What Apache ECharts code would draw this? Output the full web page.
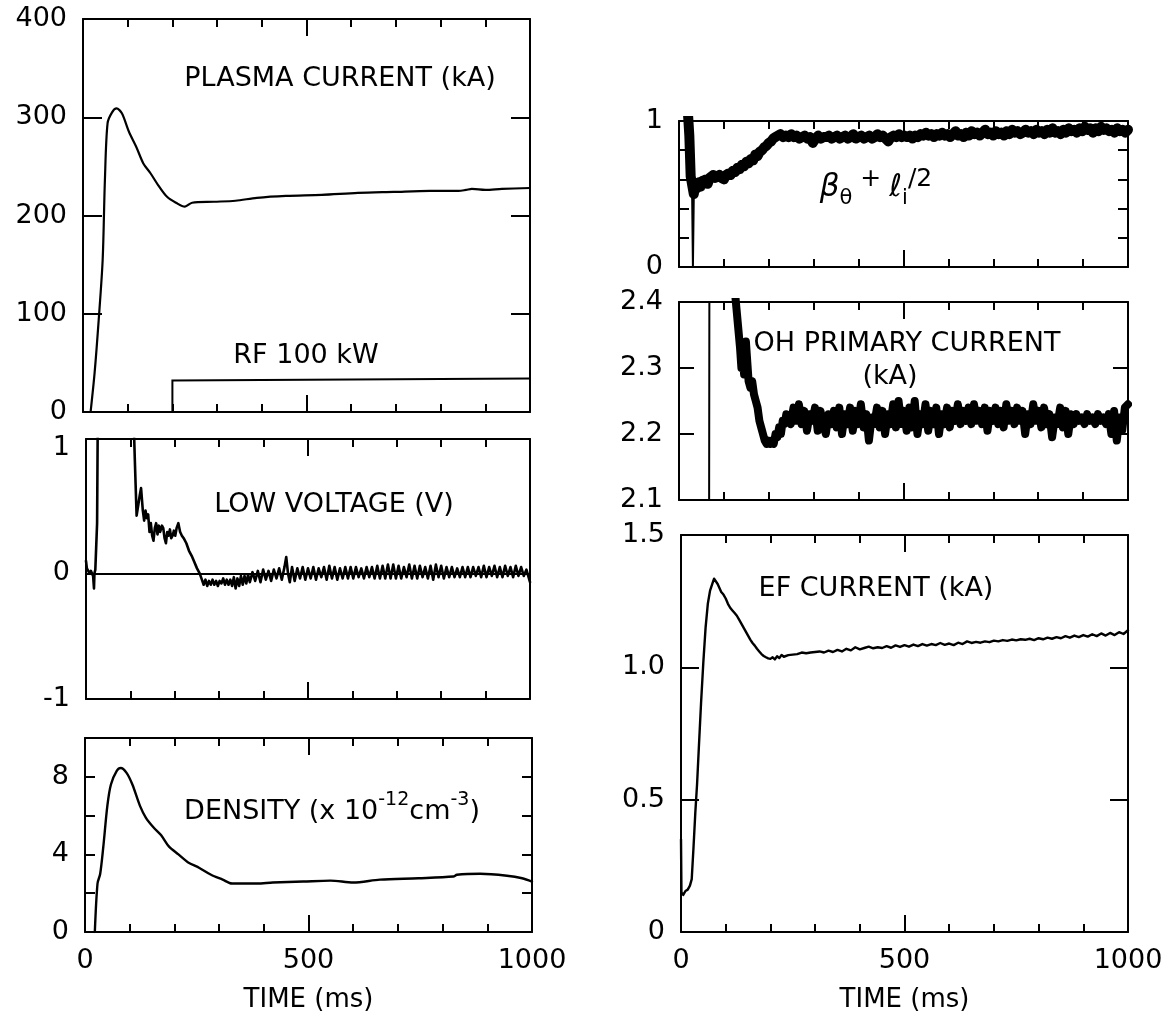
<!DOCTYPE html>
<html>
<head>
<meta charset="utf-8">
<script src="https://cdn.jsdelivr.net/npm/echarts@6/dist/echarts.min.js"></script>
<style>
html,body{margin:0;padding:0;background:#fff;}
#chart{width:1175px;height:1014px;}
</style>
</head>
<body>
<div id="chart"></div>
<script>
// ---------------- DATA (time in ms) ----------------
const timeTicks = [0, 500, 1000];

const plasmaCurrent = [
  [17,0],[26,40],[35,93],[44,155],[49,236],[55,294],[65,305],[75,309],[87,304],[103,285],
  [119,270],[135,253],[151,243],[168,231],[188,219],[208,213],[228,209],[244,213],[293,214],
  [341,215],[389,218],[454,220],[534,221],[615,223],[695,224],[776,225],[840,225],[857,226],
  [870,227],[900,226],[937,227],[1000,228]
];
const rfPower = [[200,0],[200,32],[1000,34]];

const lowVoltage = [
  [0,0.1],[2,0.04],[5,0.02],[8,0.0],[11,0.02],[14,0.01],[16,-0.02],[18,-0.12],[19,0.0],[21,0.03],
  [23,0.02],[25,0.4],[27,1.5],[60,2.5],[105,1.5],
  [110,0.9],[114,0.46],[118,0.55],[121,0.62],[124,0.68],[128,0.5],[131,0.42],[134,0.5],[137,0.44],
  [140,0.47],[143,0.33],[146,0.4],[149,0.3],[152,0.26],[155,0.36],[158,0.4],[161,0.31],[164,0.38],
  [167,0.33],[171,0.38],[174,0.36],[177,0.28],[180,0.24],[183,0.33],[186,0.3],[189,0.35],[192,0.28],
  [195,0.3],[198,0.34],[201,0.3],[204,0.36],[208,0.4],[212,0.33],[216,0.3],[220,0.28],[226,0.24],
  [232,0.18],[238,0.14],[244,0.09],[250,0.04],[256,0.0],
  [261,-0.05],[265,-0.09],[269,-0.05],[273,-0.1],[277,-0.06],[281,-0.09],[285,-0.05],[289,-0.09],
  [293,-0.06],[297,-0.1],[301,-0.06],[305,-0.08],[309,-0.04],[313,-0.09],[317,-0.05],[321,-0.09],
  [325,-0.05],[329,-0.1],[333,-0.03],[337,-0.12],[341,-0.04],[345,-0.1],[349,-0.02],[353,-0.09],
  [357,-0.02],[361,-0.08],[365,-0.01],[369,-0.07],
  [375,0.01],[381,-0.06],[387,0.02],[393,-0.07],[399,0.03],[405,-0.05],[411,0.02],[417,-0.06],
  [423,0.03],[429,-0.04],[435,0.04],[441,-0.05],[447,0.05],[451,0.13],[455,0.0],[459,-0.07],
  [464,0.05],[470,-0.06],[476,0.04],[482,-0.04],[488,0.05],[494,-0.05],[500,0.04],[506,-0.04],
  [512,0.05],[518,-0.05],[524,0.04],[530,-0.03],[536,0.05],[542,-0.05],[548,0.06],[554,-0.04],
  [560,0.05],[566,-0.05],[572,0.04],[578,-0.04],[584,0.05],[590,-0.04],[596,0.05],[602,-0.04],
  [608,0.05],[614,-0.03],[620,0.04],[626,-0.04],[632,0.05],[638,-0.03],[644,0.05],[650,-0.04],
  [656,0.06],[662,-0.04],[668,0.06],[674,-0.04],[680,0.07],[686,-0.04],[692,0.07],[698,-0.04],
  [704,0.06],[710,-0.04],[716,0.05],[722,-0.03],[728,0.07],[734,-0.04],[740,0.06],[746,-0.04],
  [752,0.06],[758,-0.03],[764,0.05],[770,-0.04],[776,0.06],[782,-0.05],[788,0.07],[794,-0.03],
  [800,0.06],[806,-0.04],[812,0.05],[818,-0.03],[824,0.05],[830,-0.03],[836,0.04],[842,-0.03],
  [848,0.05],[854,-0.03],[860,0.05],[866,-0.03],[872,0.05],[878,-0.02],[884,0.05],[890,-0.03],
  [896,0.06],[902,-0.03],[908,0.05],[914,-0.02],[920,0.06],[926,-0.03],[932,0.05],[938,-0.03],
  [944,0.06],[950,-0.02],[956,0.05],[962,-0.03],[968,0.06],[974,-0.02],[980,0.05],[986,-0.02],
  [992,0.03],[996,-0.02],[1000,-0.07]
];

const density = [
  [22,0],[28,2.5],[34,3.0],[41,4.4],[50,6.5],[58,7.6],[71,8.3],[80,8.45],[93,8.2],[106,7.6],
  [123,6.5],[136,5.9],[153,5.4],[170,5.0],[188,4.4],[209,4.0],[230,3.6],[256,3.3],[282,2.95],
  [308,2.7],[329,2.5],[351,2.5],[385,2.5],[420,2.55],[488,2.6],[549,2.65],[600,2.55],[660,2.7],
  [746,2.77],[824,2.86],[832,2.95],[884,3.0],[944,2.9],[978,2.77],[1000,2.6]
];

const betaSpike = [[29,0.56],[31,0.0],[33,0.5]];
const betaTheta = [
  [20,1.05],[23,0.9],[26,0.62],[30,0.55],[33,0.5],[36,0.56],[40,0.54],[44,0.58],[48,0.55],[52,0.59],
  [56,0.57],[60,0.6],[64,0.57],[68,0.61],[72,0.6],[76,0.63],[80,0.61],[85,0.62],[90,0.63],[95,0.61],
  [100,0.6],[105,0.63],[110,0.64],[115,0.63],[120,0.66],[125,0.65],[130,0.68],[135,0.67],[140,0.7],
  [145,0.69],[150,0.72],[155,0.71],[160,0.74],[165,0.73],[170,0.77],[175,0.76],[180,0.79],[185,0.8],
  [190,0.82],[195,0.83],[200,0.85],[205,0.86],[210,0.88],[215,0.89],[220,0.9],[226,0.91],[232,0.89],
  [238,0.9],[244,0.89],[250,0.91],[256,0.89],[262,0.9],[268,0.88],[274,0.89],[280,0.9],[286,0.88],
  [292,0.89],[298,0.85],[304,0.88],[310,0.9],[316,0.88],[322,0.89],[328,0.89],[334,0.9],[340,0.88],
  [346,0.89],[352,0.9],[358,0.88],[364,0.89],[370,0.9],[376,0.88],[382,0.89],[388,0.91],[394,0.88],
  [400,0.89],[406,0.9],[412,0.88],[418,0.89],[424,0.9],[430,0.88],[436,0.89],[442,0.91],[448,0.89],
  [454,0.9],[460,0.88],[466,0.86],[472,0.89],[478,0.9],[484,0.89],[490,0.91],[496,0.89],[502,0.9],
  [508,0.89],[514,0.9],[520,0.88],[526,0.9],[532,0.89],[538,0.91],[544,0.9],[550,0.92],[556,0.9],
  [562,0.91],[568,0.89],[574,0.91],[580,0.9],[586,0.92],[592,0.9],[598,0.91],[604,0.89],[610,0.91],
  [616,0.93],[622,0.9],[628,0.91],[634,0.89],[640,0.92],[646,0.9],[652,0.93],[658,0.91],[664,0.92],
  [670,0.9],[676,0.92],[682,0.94],[688,0.91],[694,0.92],[700,0.9],[706,0.93],[712,0.91],[718,0.92],
  [724,0.9],[730,0.93],[736,0.91],[742,0.94],[748,0.92],[754,0.93],[760,0.91],[766,0.92],[772,0.94],
  [778,0.92],[784,0.93],[790,0.91],[796,0.94],[802,0.92],[808,0.93],[814,0.91],[820,0.94],[826,0.92],
  [832,0.95],[838,0.92],[844,0.93],[850,0.91],[856,0.94],[862,0.92],[868,0.95],[874,0.93],[880,0.94],
  [886,0.92],[892,0.95],[898,0.93],[904,0.96],[910,0.94],[916,0.95],[922,0.92],[928,0.95],[934,0.93],
  [940,0.96],[946,0.94],[952,0.95],[958,0.93],[964,0.94],[970,0.92],[976,0.95],[982,0.93],[988,0.94],
  [994,0.92],[1000,0.94]
];

const ohRise = [[67,2.05],[68,2.6]];
const ohCurrent = [
  [121,2.6],[124,2.42],[128,2.39],[132,2.36],[136,2.33],[139,2.3],[142,2.32],[145,2.29],[149,2.34],
  [152,2.31],[155,2.28],[159,2.27],[163,2.28],[167,2.26],[171,2.25],[175,2.24],[179,2.22],[183,2.21],
  [187,2.2],[191,2.19],[195,2.185],[199,2.19],[203,2.185],[207,2.19],[211,2.185],[215,2.2],[219,2.195],
  [223,2.21],[227,2.2],[231,2.22],[235,2.215],[239,2.23],
  [243,2.23],[249,2.215],[255,2.24],[261,2.22],[267,2.245],[273,2.215],[279,2.235],[285,2.205],
  [291,2.23],[297,2.22],[303,2.24],[309,2.205],[315,2.235],[321,2.215],[327,2.2],[333,2.23],
  [339,2.215],[345,2.235],[351,2.21],[357,2.24],[363,2.2],[369,2.23],[375,2.215],[381,2.24],
  [387,2.205],[393,2.235],[399,2.215],[405,2.245],[411,2.21],[417,2.23],[423,2.19],[429,2.225],
  [435,2.215],[441,2.24],[447,2.21],[453,2.235],[459,2.2],[465,2.23],[471,2.215],[477,2.245],
  [483,2.21],[489,2.25],[495,2.215],[501,2.235],[507,2.205],[513,2.24],[519,2.21],[525,2.25],
  [531,2.2],[537,2.23],[543,2.215],[549,2.245],[555,2.205],[561,2.235],[567,2.215],[573,2.24],
  [579,2.2],[585,2.23],[591,2.215],[597,2.24],[603,2.21],[609,2.235],[615,2.22],[621,2.245],
  [627,2.215],[633,2.235],[639,2.22],[645,2.24],[651,2.215],[657,2.245],[663,2.22],[669,2.235],
  [675,2.215],[681,2.24],[687,2.205],[693,2.235],[699,2.22],[705,2.24],[711,2.215],[717,2.235],
  [723,2.21],[729,2.245],[735,2.22],[741,2.235],[747,2.215],[753,2.24],[759,2.22],[765,2.235],
  [771,2.2],[777,2.23],[783,2.215],[789,2.245],[795,2.22],[801,2.235],[807,2.21],[813,2.24],
  [819,2.215],[825,2.23],[831,2.195],[837,2.225],[843,2.215],[849,2.24],[855,2.21],[861,2.235],
  [867,2.2],[873,2.23],[879,2.215],[885,2.23],[891,2.22],[897,2.225],[903,2.215],[909,2.23],
  [915,2.22],[921,2.225],[927,2.215],[933,2.23],[939,2.22],[945,2.225],[951,2.215],[957,2.23],
  [963,2.2],[969,2.235],[975,2.19],[981,2.225],[987,2.205],[993,2.24],[1000,2.245]
];

const efCurrent = [
  [0,0.35],[1,0.15],[5,0.14],[10,0.155],[15,0.16],[20,0.175],[24,0.2],[28,0.32],[32,0.45],[36,0.56],
  [40,0.7],[45,0.87],[50,1.02],[55,1.15],[60,1.24],[65,1.29],[70,1.315],[74,1.335],[78,1.33],[82,1.315],
  [86,1.3],[90,1.285],[95,1.275],[100,1.26],[105,1.24],[110,1.225],[115,1.215],[120,1.205],[125,1.195],
  [130,1.18],[135,1.165],[140,1.15],[145,1.135],[150,1.12],[155,1.105],[160,1.092],[165,1.082],[170,1.07],
  [175,1.06],[180,1.05],[185,1.043],[190,1.038],[195,1.034],[200,1.032],[205,1.038],[210,1.03],
  [215,1.042],[220,1.035],[225,1.047],[230,1.04],[240,1.046],[250,1.048],[260,1.05],[270,1.056],
  [280,1.053],[290,1.056],[300,1.058],[310,1.06],[320,1.056],[330,1.063],[340,1.058],[350,1.066],
  [360,1.06],[370,1.07],[380,1.064],[390,1.076],[400,1.068],[410,1.073],[420,1.078],[430,1.072],
  [440,1.076],[450,1.073],[460,1.08],[470,1.074],[480,1.083],[490,1.077],[500,1.084],[510,1.078],
  [520,1.086],[530,1.08],[540,1.088],[550,1.082],[560,1.088],[570,1.084],[580,1.092],[590,1.085],
  [600,1.09],[610,1.084],[620,1.093],[630,1.088],[640,1.098],[650,1.092],[660,1.096],[670,1.093],
  [680,1.098],[690,1.095],[700,1.101],[710,1.098],[720,1.103],[730,1.1],[740,1.105],[750,1.102],
  [760,1.106],[770,1.104],[780,1.108],[790,1.103],[800,1.11],[810,1.106],[820,1.112],[830,1.108],
  [840,1.114],[850,1.11],[860,1.118],[870,1.112],[880,1.12],[890,1.114],[900,1.122],[910,1.116],
  [920,1.125],[930,1.118],[940,1.128],[950,1.12],[960,1.13],[970,1.122],[980,1.133],[990,1.126],
  [1000,1.14]
];

// y-axis label sets
const plasmaTicks = [0, 100, 200, 300, 400];
const voltageTicks = [-1, 0, 1];
const densityTicks = [0, 4, 8];
const betaTicks = [0, 1];
const ohTicks = [2.1, 2.2, 2.3, 2.4];
const efTicks = [0, 0.5, 1.0, 1.5];

// ---------------- CHART ----------------
const FONT = 'DejaVu Sans';
const BLACK = '#000';
const TICK_FONT = 27;

const grids = [
  {left: 83, top: 19, width: 447, height: 393},   // plasma current
  {left: 86, top: 439, width: 444, height: 260},  // low voltage
  {left: 85, top: 738, width: 447, height: 194},  // density
  {left: 679, top: 121, width: 449, height: 146}, // beta + li/2
  {left: 679, top: 302, width: 449, height: 198}, // OH primary
  {left: 681, top: 535, width: 447, height: 397}  // EF current
];

function xAxes(gi, showLabels) {
  const base = {
    type: 'value', gridIndex: gi, min: timeTicks[0], max: timeTicks[timeTicks.length - 1],
    interval: timeTicks[1] - timeTicks[0],
    axisLine: {show: true, onZero: false, lineStyle: {color: BLACK, width: 2}},
    axisTick: {show: true, inside: true, length: 17, lineStyle: {color: BLACK, width: 2}},
    minorTick: {show: true, splitNumber: 5, length: 8, lineStyle: {color: BLACK, width: 2}},
    splitLine: {show: false}, minorSplitLine: {show: false}
  };
  const bottom = Object.assign({}, base, {
    position: 'bottom',
    axisLabel: {show: showLabels, color: BLACK, fontFamily: FONT, fontSize: TICK_FONT, margin: 15,
      formatter: v => timeTicks.includes(v) ? String(v) : ''}
  });
  if (showLabels) {
    Object.assign(bottom, {name: 'TIME (ms)', nameLocation: 'middle', nameGap: 55,
      nameTextStyle: {color: BLACK, fontFamily: FONT, fontSize: 26}});
  }
  const top = Object.assign({}, base, {position: 'top', axisLabel: {show: false}});
  return [bottom, top];
}

function yAxes(gi, min, max, interval, tickLen, labels, fmt) {
  const base = {
    type: 'value', gridIndex: gi, min: min, max: max, interval: interval,
    axisLine: {show: true, onZero: false, lineStyle: {color: BLACK, width: 2}},
    axisTick: {show: tickLen > 0, inside: true, length: tickLen, lineStyle: {color: BLACK, width: 2}},
    splitLine: {show: false}
  };
  const left = Object.assign({}, base, {
    position: 'left',
    axisLabel: {show: true, color: BLACK, fontFamily: FONT, fontSize: TICK_FONT, margin: 16,
      showMinLabel: true, showMaxLabel: true,
      formatter: v => {
        const hit = labels.find(l => Math.abs(l - v) < 1e-6);
        return hit === undefined ? '' : fmt(hit);
      }}
  });
  const right = Object.assign({}, base, {position: 'right', axisLabel: {show: false}});
  return [left, right];
}

const xAxis = [].concat(
  xAxes(0, false), xAxes(1, false), xAxes(2, true),
  xAxes(3, false), xAxes(4, false), xAxes(5, true)
);
const yAxis = [].concat(
  yAxes(0, 0, 400, 100, 19, plasmaTicks, v => String(v)),
  yAxes(1, -1, 1.07, 1, 0, voltageTicks, v => String(v)),
  yAxes(2, 0, 10, 2, 10, densityTicks, v => String(v)),
  yAxes(3, 0, 1, 0.2, 10, betaTicks, v => String(v)),
  yAxes(4, 2.1, 2.4, 0.1, 15, ohTicks, v => v.toFixed(1)),
  yAxes(5, 0, 1.5, 0.5, 18, efTicks, v => v === 0 ? '0' : v.toFixed(1))
);

function line(gi, data, width, extra) {
  return Object.assign({
    type: 'line', xAxisIndex: gi * 2, yAxisIndex: gi * 2, data: data,
    symbol: 'none', showSymbol: false, clip: true, animation: false, silent: true,
    lineStyle: {color: BLACK, width: width, join: 'round', cap: 'round'}
  }, extra || {});
}

const series = [
  line(0, plasmaCurrent, 2.2, {smooth: 0.3}),
  line(0, rfPower, 2, {lineStyle: {color: BLACK, width: 2, join: 'miter'}}),
  line(1, lowVoltage, 2.6, {
    markLine: {silent: true, symbol: ['none', 'none'], label: {show: false},
      lineStyle: {color: BLACK, width: 2, type: 'solid'}, data: [{yAxis: 0}], animation: false}
  }),
  line(2, density, 2.4, {smooth: 0.3}),
  line(3, betaSpike, 2),
  line(3, betaTheta, 10),
  line(4, ohRise, 2),
  line(4, ohCurrent, 8),
  line(5, efCurrent, 2.4)
];

const txt = (x, y, text, size) => ({
  type: 'text', x: x, y: y, silent: true,
  style: {text: text, fill: BLACK, font: (size || 27) + 'px "' + FONT + '"', align: 'center', verticalAlign: 'middle'}
});

const graphic = [
  txt(340, 79, 'PLASMA CURRENT (kA)'),
  txt(306, 356, 'RF 100 kW'),
  txt(334, 505, 'LOW VOLTAGE (V)'),
  {
    type: 'text', x: 332, y: 810, silent: true,
    style: {
      text: '{a|DENSITY (x 10}{s|-12}{a|cm}{s|-3}{a|)}',
      align: 'center', verticalAlign: 'middle', fill: BLACK,
      rich: {
        a: {fontFamily: FONT, fontSize: 27, lineHeight: 38, verticalAlign: 'bottom', fill: BLACK, padding: [0, 0, 4, 0]},
        s: {fontFamily: FONT, fontSize: 19, lineHeight: 20, verticalAlign: 'top', fill: BLACK}
      }
    }
  },
  {
    type: 'text', x: 876, y: 188, silent: true,
    style: {
      text: '{g|β}{sub|θ}{p| + }{g|ℓ}{sub|i}{p|/2}',
      align: 'center', verticalAlign: 'middle', fill: BLACK,
      rich: {
        g: {fontFamily: FONT, fontSize: 31, fontStyle: 'italic', lineHeight: 42, verticalAlign: 'middle', fill: BLACK},
        sub: {fontFamily: FONT, fontSize: 21, lineHeight: 22, verticalAlign: 'bottom', fill: BLACK},
        p: {fontFamily: FONT, fontSize: 25, lineHeight: 32, verticalAlign: 'top', fill: BLACK}
      }
    }
  },
  txt(907, 344, 'OH PRIMARY CURRENT'),
  txt(890, 377, '(kA)'),
  txt(876, 589, 'EF CURRENT (kA)')
];

const chart = echarts.init(document.getElementById('chart'), null, {renderer: 'canvas'});
chart.setOption({
  backgroundColor: '#fff',
  animation: false,
  grid: grids.map(g => Object.assign({containLabel: false, outerBoundsMode: 'none'}, g)),
  xAxis: xAxis,
  yAxis: yAxis,
  series: series,
  graphic: graphic
});
</script>
</body>
</html>
